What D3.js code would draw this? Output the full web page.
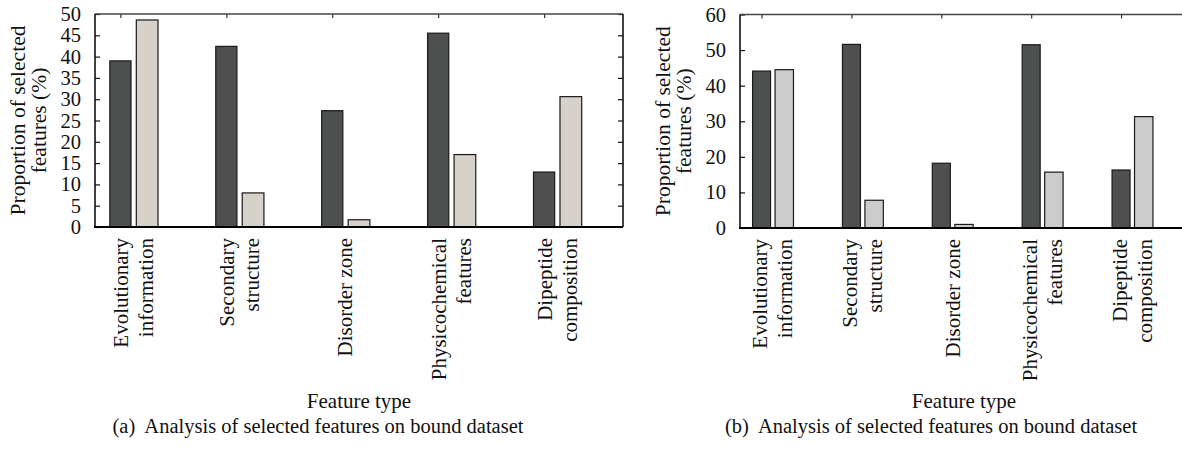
<!DOCTYPE html>
<html lang="en">
<head>
  <meta charset="UTF-8">
  <title>Selected features</title>
  <script src="https://d3js.org/d3.v7.min.js"></script>
  <style>
    body { margin: 0; background: #fff; }
    text { font-family: "Liberation Serif", "Times New Roman", serif; fill: #111; }
  </style>
</head>
<body>
<div class="main"></div>
<script>
  // categories (label lines) shared by both panels
  const categories = [
    ["Evolutionary", "information"],
    ["Secondary", "structure"],
    ["Disorder zone"],
    ["Physicochemical", "features"],
    ["Dipeptide", "composition"]
  ];

  // panel (a)
  const valuesA1 = [39.0, 42.4, 27.3, 45.5, 12.9];
  const valuesA2 = [48.6, 8.0, 1.7, 17.0, 30.6];
  const ticksA = [0, 5, 10, 15, 20, 25, 30, 35, 40, 45, 50];

  // panel (b)
  const valuesB1 = [44.1, 51.6, 18.2, 51.5, 16.3];
  const valuesB2 = [44.5, 7.8, 1.0, 15.7, 31.3];
  const ticksB = [0, 10, 20, 30, 40, 50, 60];

  const width = 1182, height = 456;

  var svg = d3.select(".main")
    .append("svg")
    .attr("width", width)
    .attr("height", height)
    .style("display", "block");

  function drawPanel(p) {
    var g = svg.append("g");

    var xScale = d3.scaleLinear().domain([0.76, 5.745]).range([p.left, p.right]);
    var yScale = d3.scaleLinear().domain([0, p.yMax]).range([p.bottom, p.top]);

    // bars
    var idx = d3.range(categories.length);
    g.selectAll("rect.dark")
      .data(idx)
      .join("rect")
      .attr("class", "dark")
      .attr("x", i => xScale(i + 1 - 0.1))
      .attr("width", i => xScale(i + 1 + 0.1) - xScale(i + 1 - 0.1))
      .attr("y", i => yScale(p.s1[i]))
      .attr("height", i => p.bottom - yScale(p.s1[i]))
      .attr("fill", "#4d504f")
      .attr("stroke", "#1a1a1a")
      .attr("stroke-width", 1.2);

    g.selectAll("rect.light")
      .data(idx)
      .join("rect")
      .attr("class", "light")
      .attr("x", i => xScale(i + 1 + 0.15))
      .attr("width", i => xScale(i + 1 + 0.355) - xScale(i + 1 + 0.15))
      .attr("y", i => yScale(p.s2[i]))
      .attr("height", i => p.bottom - yScale(p.s2[i]))
      .attr("fill", p.lightColor)
      .attr("stroke", "#1a1a1a")
      .attr("stroke-width", 1.2);

    // left axis, ticks pointing inward
    var yAxis = d3.axisLeft(yScale)
      .tickValues(p.ticks)
      .tickSize(-5)
      .tickPadding(14)
      .tickFormat(d3.format("d"));
    var ya = g.append("g").attr("transform", `translate(${p.left},0)`).call(yAxis);
    ya.select(".domain").remove();
    ya.selectAll("line").attr("stroke", "#111").attr("stroke-width", 1.2);
    ya.selectAll("text").style("font-size", "20.5px").attr("fill", "#111");

    // right mirror ticks (panel a only)
    if (p.rightTicks) {
      var yAxisR = d3.axisRight(yScale).tickValues(p.ticks).tickSize(-5).tickFormat("");
      var yr = g.append("g").attr("transform", `translate(${p.right},0)`).call(yAxisR);
      yr.select(".domain").remove();
      yr.selectAll("line").attr("stroke", "#111").attr("stroke-width", 1.2);
    }

    // top ticks at the groups
    var xTop = d3.axisTop(xScale).tickValues([1, 2, 3, 4, 5]).tickSize(-4).tickFormat("");
    var xt = g.append("g").attr("transform", `translate(0,${p.top})`).call(xTop);
    xt.select(".domain").remove();
    xt.selectAll("line").attr("stroke", "#333").attr("stroke-width", 1.2);

    // frame
    g.append("line").attr("x1", p.left).attr("x2", p.right).attr("y1", p.top).attr("y2", p.top)
      .attr("stroke", "#444").attr("stroke-width", 1.4);
    g.append("line").attr("x1", p.left).attr("x2", p.left).attr("y1", p.top).attr("y2", p.bottom)
      .attr("stroke", "#111").attr("stroke-width", 1.6);
    if (p.rightTicks) {
      g.append("line").attr("x1", p.right).attr("x2", p.right).attr("y1", p.top).attr("y2", p.bottom)
        .attr("stroke", "#111").attr("stroke-width", 1.6);
    }
    g.append("line").attr("x1", p.left - 1).attr("x2", p.right).attr("y1", p.bottom).attr("y2", p.bottom)
      .attr("stroke", "#000").attr("stroke-width", 2.2);

    // category labels, rotated
    categories.forEach(function (lines, i) {
      var cx = (xScale(i + 1) + xScale(i + 1.25)) / 2;
      var n = lines.length;
      lines.forEach(function (t, j) {
        var bx = cx + 7 + (j - (n - 1) / 2) * 25;
        g.append("text")
          .attr("transform", `translate(${bx},${p.bottom + 11}) rotate(-90)`)
          .attr("text-anchor", "end")
          .style("font-size", "21px")
          .text(t);
      });
    });

    // y label
    var yMid = (p.top + p.bottom) / 2;
    g.append("text")
      .attr("transform", `translate(${p.left - 70},${yMid}) rotate(-90)`)
      .attr("text-anchor", "middle")
      .style("font-size", "21.5px")
      .text("Proportion of selected");
    g.append("text")
      .attr("transform", `translate(${p.left - 49},${yMid}) rotate(-90)`)
      .attr("text-anchor", "middle")
      .style("font-size", "21.5px")
      .text("features (%)");

    // x label
    g.append("text")
      .attr("x", (p.left + p.right) / 2)
      .attr("y", 408)
      .attr("text-anchor", "middle")
      .style("font-size", "21px")
      .text("Feature type");

    // caption
    g.append("text")
      .attr("x", p.captionX)
      .attr("y", 433)
      .attr("text-anchor", "middle")
      .style("font-size", "20.5px")
      .attr("xml:space", "preserve")
      .text(p.caption);
  }

  drawPanel({
    left: 95, right: 623, top: 14, bottom: 227, yMax: 50,
    s1: valuesA1, s2: valuesA2, ticks: ticksA,
    lightColor: "#d6d1c9", rightTicks: true,
    caption: "(a)  Analysis of selected features on bound dataset", captionX: 318
  });

  drawPanel({
    left: 740, right: 1188, top: 14.5, bottom: 228, yMax: 60,
    s1: valuesB1, s2: valuesB2, ticks: ticksB,
    lightColor: "#cccccc", rightTicks: false,
    caption: "(b)  Analysis of selected features on bound dataset", captionX: 931
  });
</script>
</body>
</html>
